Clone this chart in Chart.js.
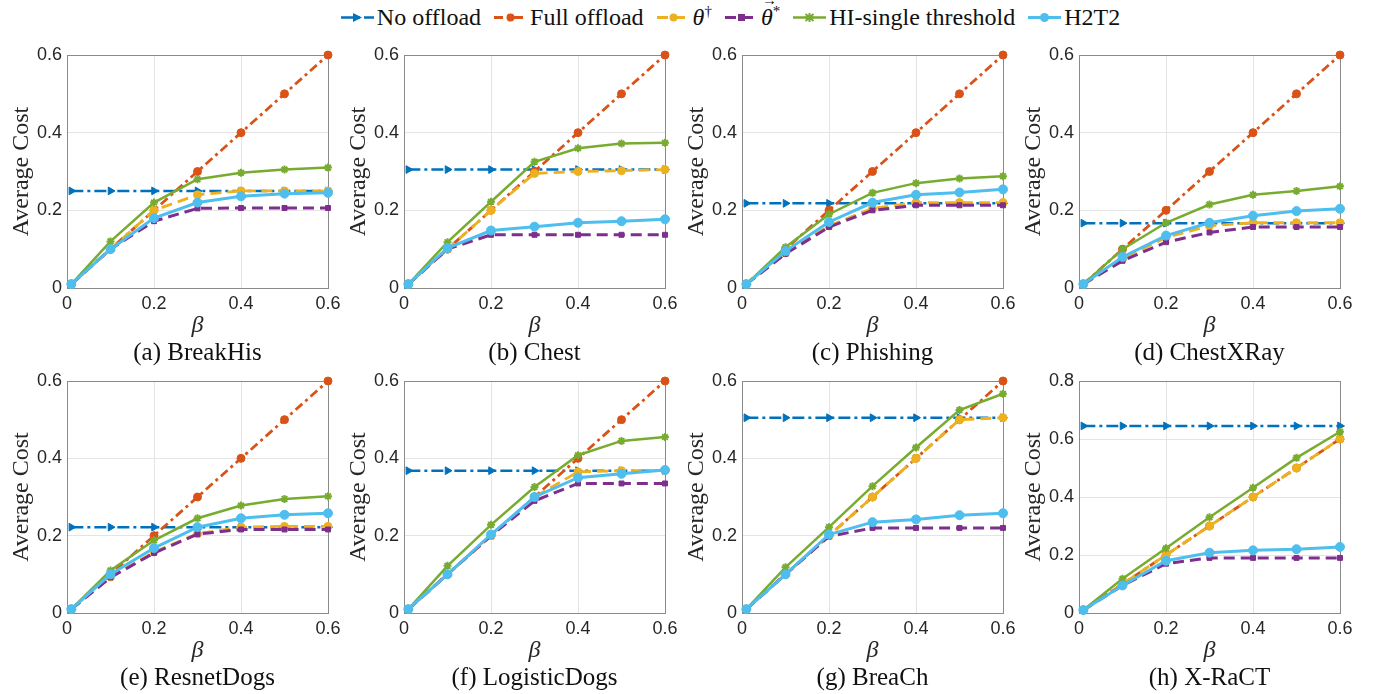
<!DOCTYPE html>
<html>
<head>
<meta charset="utf-8">
<script src="https://cdn.jsdelivr.net/npm/chart.js@4.4.1/dist/chart.umd.min.js"></script>
<style>
  body { margin: 0; width: 1380px; height: 694px; background: #fff; position: relative; overflow: hidden; font-family: "Liberation Serif", serif; color: #111; }
  canvas { position: absolute; }
  .cap { position: absolute; width: 320px; text-align: center; font-size: 25px; line-height: 28px; }
  #legend { position: absolute; top: 2px; left: 40px; width: 1380px; height: 30px; display: flex; justify-content: center; align-items: center; font-size: 24px; }
  .item { display: flex; align-items: center; margin: 0 6px; white-space: nowrap; }
  .item svg { margin-right: 2px; }
  sup { font-size: 15px; line-height: 0; }
  .vec { position: relative; display: inline-block; }
  .vec .arr { position: absolute; left: 1px; top: -12px; font-size: 15px; font-style: normal; }
</style>
</head>
<body>
<div id="legend"></div>
<script>
// beta values on the x axis
const beta = [0.01, 0.1, 0.2, 0.3, 0.4, 0.5, 0.6];
const xTicks = [0, 0.2, 0.4, 0.6];
const yTicks = [[0, 0.2, 0.4, 0.6], [0, 0.2, 0.4, 0.6], [0, 0.2, 0.4, 0.6], [0, 0.2, 0.4, 0.6],
                [0, 0.2, 0.4, 0.6], [0, 0.2, 0.4, 0.6], [0, 0.2, 0.4, 0.6], [0, 0.2, 0.4, 0.6, 0.8]];
const captions = ['(a) BreakHis', '(b) Chest', '(c) Phishing', '(d) ChestXRay',
                  '(e) ResnetDogs', '(f) LogisticDogs', '(g) BreaCh', '(h) X-RaCT'];

// one row per dataset (a)..(h)
const noOffload = [
  [0.25, 0.25, 0.25, 0.25, 0.25, 0.25, 0.25],
  [0.305, 0.305, 0.305, 0.305, 0.305, 0.305, 0.305],
  [0.218, 0.218, 0.218, 0.218, 0.218, 0.218, 0.218],
  [0.167, 0.167, 0.167, 0.167, 0.167, 0.167, 0.167],
  [0.222, 0.222, 0.222, 0.222, 0.222, 0.222, 0.222],
  [0.368, 0.368, 0.368, 0.368, 0.368, 0.368, 0.368],
  [0.505, 0.505, 0.505, 0.505, 0.505, 0.505, 0.505],
  [0.645, 0.645, 0.645, 0.645, 0.645, 0.645, 0.645]
];
const fullOffload = [0.01, 0.1, 0.2, 0.3, 0.4, 0.5, 0.6];
const thetaDagger = [
  [0.01, 0.1, 0.2, 0.24, 0.25, 0.25, 0.25],
  [0.01, 0.1, 0.2, 0.295, 0.3, 0.302, 0.305],
  [0.01, 0.09, 0.16, 0.205, 0.22, 0.22, 0.22],
  [0.01, 0.075, 0.13, 0.16, 0.168, 0.168, 0.168],
  [0.01, 0.093, 0.158, 0.205, 0.222, 0.224, 0.224],
  [0.01, 0.1, 0.2, 0.3, 0.365, 0.368, 0.368],
  [0.01, 0.1, 0.2, 0.3, 0.4, 0.5, 0.505],
  [0.01, 0.1, 0.2, 0.3, 0.4, 0.5, 0.6]
];
const thetaStar = [
  [0.01, 0.1, 0.172, 0.205, 0.206, 0.206, 0.206],
  [0.01, 0.1, 0.137, 0.137, 0.137, 0.137, 0.137],
  [0.01, 0.088, 0.157, 0.2, 0.213, 0.213, 0.213],
  [0.01, 0.07, 0.118, 0.143, 0.157, 0.157, 0.157],
  [0.01, 0.092, 0.155, 0.204, 0.216, 0.216, 0.216],
  [0.01, 0.1, 0.2, 0.29, 0.335, 0.335, 0.335],
  [0.01, 0.1, 0.198, 0.22, 0.22, 0.22, 0.22],
  [0.01, 0.095, 0.17, 0.19, 0.19, 0.19, 0.19]
];
const hiSingle = [
  [0.01, 0.12, 0.22, 0.28, 0.297, 0.305, 0.31],
  [0.01, 0.118, 0.222, 0.325, 0.36, 0.372, 0.374],
  [0.01, 0.105, 0.19, 0.245, 0.27, 0.282, 0.288],
  [0.01, 0.1, 0.168, 0.215, 0.24, 0.25, 0.262],
  [0.01, 0.11, 0.188, 0.245, 0.278, 0.295, 0.302],
  [0.01, 0.122, 0.228, 0.326, 0.408, 0.445, 0.455],
  [0.01, 0.118, 0.222, 0.328, 0.428, 0.525, 0.567],
  [0.01, 0.118, 0.223, 0.33, 0.432, 0.535, 0.625]
];
const h2t2 = [
  [0.01, 0.1, 0.18, 0.22, 0.236, 0.243, 0.245],
  [0.01, 0.103, 0.148, 0.158, 0.168, 0.172, 0.177],
  [0.01, 0.095, 0.17, 0.22, 0.24, 0.246, 0.254],
  [0.01, 0.08, 0.135, 0.168, 0.186, 0.198, 0.204],
  [0.01, 0.1, 0.168, 0.222, 0.245, 0.254, 0.258],
  [0.01, 0.1, 0.203, 0.3, 0.35, 0.36, 0.37],
  [0.01, 0.1, 0.203, 0.235, 0.242, 0.253, 0.258],
  [0.01, 0.095, 0.18, 0.208, 0.216, 0.22, 0.228]
];

// series look (MATLAB default colours)
const series = [
  { key: 'no',   label: 'No offload',          color: '#0072BD', dash: [12, 4, 3, 4], width: 2.5, point: 'triangle', rot: 90, r: 4.5 },
  { key: 'full', label: 'Full offload',        color: '#D95319', dash: [9, 4, 3, 4],  width: 2.8, point: 'circle',   rot: 0,  r: 4 },
  { key: 'dag',  label: '<i>θ</i><sup>†</sup>', color: '#EDB120', dash: [11, 6],       width: 2.8, point: 'circle',   rot: 0,  r: 4 },
  { key: 'star', label: '<span class="vec"><i>θ</i><span class="arr">→</span></span><sup>*</sup>', color: '#7E2F8E', dash: [11, 6], width: 3, point: 'rect', rot: 0, r: 3.5 },
  { key: 'hi',   label: 'HI-single threshold', color: '#77AC30', dash: [],            width: 2.5, point: 'star',     rot: 0,  r: 4 },
  { key: 'h2t2', label: 'H2T2',                color: '#4DBEEE', dash: [],            width: 3,   point: 'circle',   rot: 0,  r: 4.5 }
];

// panel geometry
const plotLeft = [67, 404, 742, 1079];
const plotTop = [55, 381];
const plotH = [233, 232];
const capY = [352, 677];
const plotW = 261;
const axisW = 60, axisH = 52, padTop = 12, padRight = 20;

// legend
const legend = document.getElementById('legend');
series.forEach(s => {
  const item = document.createElement('div');
  item.className = 'item';
  let mark = '';
  if (s.point === 'triangle') mark = '<polygon points="13,3 22,7.5 13,12" fill="' + s.color + '"/>';
  else if (s.point === 'rect') mark = '<rect x="14" y="4" width="7" height="7" fill="' + s.color + '"/>';
  else if (s.point === 'star') mark = '<path d="M13.5 4 L21.5 11 M13.5 11 L21.5 4 M17.5 3 L17.5 12 M13 7.5 L22 7.5" stroke="' + s.color + '" stroke-width="2"/>';
  else mark = '<circle cx="17.5" cy="7.5" r="' + s.r + '" fill="' + s.color + '"/>';
  item.innerHTML = '<svg width="35" height="15"><line x1="1" y1="7.5" x2="34" y2="7.5" stroke="' + s.color +
    '" stroke-width="' + s.width + '" stroke-dasharray="' + (s.dash.length ? s.dash.join(' ') : 'none') + '"/>' + mark + '</svg>' +
    '<span>' + s.label + '</span>';
  legend.appendChild(item);
});

const fmt = v => (Math.round(v * 10) / 10).toString();

const boxPlugin = {
  id: 'box',
  beforeDatasetsDraw(chart) {
    const a = chart.chartArea, ctx = chart.ctx;
    ctx.save();
    ctx.strokeStyle = '#8a8a8a';
    ctx.lineWidth = 1;
    ctx.strokeRect(Math.round(a.left) + 0.5, Math.round(a.top) + 0.5, Math.round(a.right - a.left), Math.round(a.bottom - a.top));
    ctx.restore();
  }
};

for (let i = 0; i < 8; i++) {
  const col = i % 4, row = Math.floor(i / 4);
  const canvas = document.createElement('canvas');
  canvas.width = axisW + plotW + padRight;
  canvas.height = padTop + plotH[row] + axisH;
  canvas.style.left = (plotLeft[col] - axisW) + 'px';
  canvas.style.top = (plotTop[row] - padTop) + 'px';
  document.body.appendChild(canvas);

  const cap = document.createElement('div');
  cap.className = 'cap';
  cap.textContent = captions[i];
  cap.style.left = (plotLeft[col] + plotW / 2 - 160) + 'px';
  cap.style.top = (capY[row] - 14) + 'px';
  document.body.appendChild(cap);

  const values = { no: noOffload[i], full: fullOffload, dag: thetaDagger[i], star: thetaStar[i], hi: hiSingle[i], h2t2: h2t2[i] };
  const ticksY = yTicks[i];

  new Chart(canvas.getContext('2d'), {
    type: 'line',
    data: {
      datasets: series.map((s, k) => ({
        label: s.key,
        data: beta.map((b, j) => ({ x: b, y: values[s.key][j] })),
        borderColor: s.color,
        backgroundColor: s.color,
        borderWidth: s.width,
        borderDash: s.dash,
        pointStyle: s.point,
        pointRotation: s.rot,
        pointRadius: s.r,
        pointBorderWidth: s.point === 'star' ? 2 : 1,
        pointBackgroundColor: s.color,
        pointBorderColor: s.color,
        tension: 0,
        clip: false,
        order: series.length - k
      }))
    },
    options: {
      responsive: false,
      animation: false,
      layout: { padding: { top: padTop, right: padRight, left: 0, bottom: 0 } },
      plugins: { legend: { display: false }, tooltip: { enabled: false } },
      scales: {
        x: {
          type: 'linear', min: 0, max: 0.6,
          afterBuildTicks: s => { s.ticks = xTicks.map(v => ({ value: v })); },
          afterFit: s => { s.height = axisH; s.paddingLeft = 0; s.paddingRight = 0; },
          grid: { color: '#e4e4e4', drawTicks: false },
          border: { display: false },
          ticks: { padding: 5, color: '#262626', font: { family: 'Liberation Sans', size: 18 }, callback: v => fmt(v), maxRotation: 0 },
          title: { display: true, text: 'β', color: '#262626', padding: 0, font: { family: 'Liberation Serif', size: 24, style: 'italic' } }
        },
        y: {
          type: 'linear', min: 0, max: ticksY[ticksY.length - 1],
          afterBuildTicks: s => { s.ticks = ticksY.map(v => ({ value: v })); },
          afterFit: s => { s.width = axisW; s.paddingTop = 0; s.paddingBottom = 0; },
          grid: { color: '#e4e4e4', drawTicks: false },
          border: { display: false },
          ticks: { padding: 5, color: '#262626', font: { family: 'Liberation Sans', size: 18 }, callback: v => fmt(v) },
          title: { display: true, text: 'Average Cost', color: '#262626', padding: 0, font: { family: 'Liberation Serif', size: 24 } }
        }
      }
    },
    plugins: [boxPlugin]
  });
}
</script>
</body>
</html>
